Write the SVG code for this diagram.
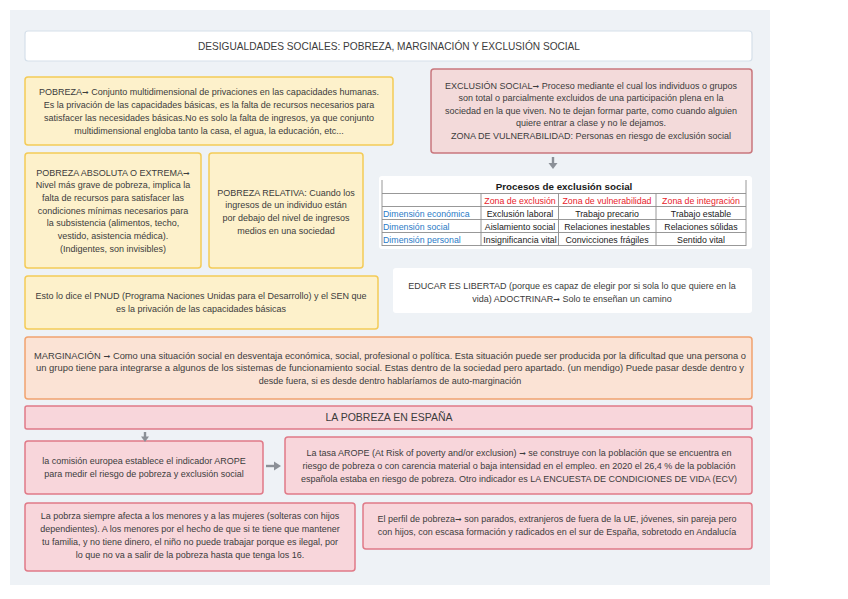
<svg xmlns="http://www.w3.org/2000/svg" width="848" height="599" viewBox="0 0 848 599">
<style>
text{font-family:"Liberation Sans",Arial,sans-serif;fill:#3c3c3c;font-size:9px;text-anchor:middle}
.t{font-size:10.5px}
.a{font-family:"DejaVu Sans",sans-serif;font-size:8px}
.y{fill:#fdf1cb;stroke:#f4cb57;stroke-width:1.5}
.p{fill:#f8d6db;stroke:#e07a88;stroke-width:1.5}
.ex{fill:#f3dada;stroke:#c9777d;stroke-width:1.5}
.o{fill:#fbe3d5;stroke:#f1a36f;stroke-width:1.5}
.w{fill:#ffffff;stroke:#d6e0ea;stroke-width:1.2}
.tb text{font-size:8.8px;fill:#1a1a1a}
.tb .r{fill:#e8232b}
.tb .b{fill:#2a7ac6;text-anchor:start}
.tb line{stroke:#8c8c8c;stroke-width:0.9}
.con line{stroke:#8b9097;stroke-width:2.4}
.con polygon{fill:#8b9097}
</style>
<rect x="0" y="0" width="848" height="599" fill="#ffffff"/>
<rect x="10" y="10" width="760" height="575" fill="#eef2f6"/>

<g id="title">
<rect class="w" x="25" y="31" width="727" height="30" rx="3"/>
<text class="t" x="389" y="50" textLength="382" lengthAdjust="spacingAndGlyphs">DESIGUALDADES SOCIALES: POBREZA, MARGINACIÓN Y EXCLUSIÓN SOCIAL</text>
</g>

<g id="pobreza">
<rect class="y" x="25" y="77" width="368" height="68" rx="3"/>
<text x="209" y="95">POBREZA<tspan class="a">➞</tspan> Conjunto multidimensional de privaciones en las capacidades humanas.</text>
<text x="209" y="108">Es la privación de las capacidades básicas, es la falta de recursos necesarios para</text>
<text x="209" y="121">satisfacer las necesidades básicas.No es solo la falta de ingresos, ya que conjunto</text>
<text x="209" y="134">multidimensional engloba tanto la casa, el agua, la educación, etc...</text>
</g>

<g id="exclusion">
<rect class="ex" x="431" y="69" width="321" height="84" rx="3"/>
<text x="591" y="89">EXCLUSIÓN SOCIAL<tspan class="a">➞</tspan> Proceso mediante el cual los individuos o grupos</text>
<text x="591" y="101">son total o parcialmente excluidos de una participación plena en la</text>
<text x="591" y="114">sociedad en la que viven. No te dejan formar parte, como cuando alguien</text>
<text x="591" y="126">quiere entrar a clase y no le dejamos.</text>
<text x="591" y="139">ZONA DE VULNERABILIDAD: Personas en riesgo de exclusión social</text>
</g>

<g id="absoluta">
<rect class="y" x="25" y="153" width="176" height="115" rx="3"/>
<text x="113" y="176">POBREZA ABSOLUTA O EXTREMA<tspan class="a">➞</tspan></text>
<text x="113" y="188">Nivel más grave de pobreza, implica la</text>
<text x="113" y="201">falta de recursos para satisfacer las</text>
<text x="113" y="214">condiciones mínimas necesarios para</text>
<text x="113" y="226">la subsistencia (alimentos, techo,</text>
<text x="113" y="239">vestido, asistencia médica).</text>
<text x="113" y="252">(Indigentes, son invisibles)</text>
</g>

<g id="relativa">
<rect class="y" x="209" y="153" width="154" height="115" rx="3"/>
<text x="286" y="196">POBREZA RELATIVA: Cuando los</text>
<text x="286" y="208">ingresos de un individuo están</text>
<text x="286" y="221">por debajo del nivel de ingresos</text>
<text x="286" y="234">medios en una sociedad</text>
</g>

<g id="tabla" class="tb">
<rect x="379" y="176" width="373" height="73" rx="3" fill="#ffffff"/>
<line x1="382" y1="180" x2="382" y2="246"/>
<line x1="746" y1="180" x2="746" y2="246"/>
<line x1="382" y1="193.5" x2="746" y2="193.5"/>
<line x1="382" y1="206.5" x2="746" y2="206.5"/>
<line x1="382" y1="219.5" x2="746" y2="219.5"/>
<line x1="382" y1="232.5" x2="746" y2="232.5"/>
<line x1="382" y1="245.5" x2="746" y2="245.5"/>
<line x1="481" y1="193.5" x2="481" y2="245.5"/>
<line x1="558.5" y1="193.5" x2="558.5" y2="245.5"/>
<line x1="656" y1="193.5" x2="656" y2="245.5"/>
<text x="564" y="190" style="font-weight:bold;font-size:9.8px">Procesos de exclusión social</text>
<text class="r" x="520" y="204">Zona de exclusión</text>
<text class="r" x="607" y="204">Zona de vulnerabilidad</text>
<text class="r" x="701" y="204">Zona de integración</text>
<text class="b" x="383" y="216.5">Dimensión económica</text>
<text class="b" x="383" y="229.5">Dimensión social</text>
<text class="b" x="383" y="242.5">Dimensión personal</text>
<text x="520" y="216.5">Exclusión laboral</text>
<text x="607" y="216.5">Trabajo precario</text>
<text x="701" y="216.5">Trabajo estable</text>
<text x="520" y="229.5">Aislamiento social</text>
<text x="607" y="229.5">Relaciones inestables</text>
<text x="701" y="229.5">Relaciones sólidas</text>
<text x="520" y="242.5">Insignificancia vital</text>
<text x="607" y="242.5">Convicciones frágiles</text>
<text x="701" y="242.5">Sentido vital</text>
</g>

<g id="pnud">
<rect class="y" x="25" y="276" width="353" height="53" rx="3"/>
<text x="201" y="299">Esto lo dice el PNUD (Programa Naciones Unidas para el Desarrollo) y el SEN que</text>
<text x="201" y="312">es la privación de las capacidades básicas</text>
</g>

<g id="educar">
<rect x="393" y="268" width="359" height="45" rx="3" fill="#ffffff"/>
<text x="572" y="289">EDUCAR ES LIBERTAD (porque es capaz de elegir por si sola lo que quiere en la</text>
<text x="572" y="302">vida) ADOCTRINAR<tspan class="a">➞</tspan> Solo te enseñan un camino</text>
</g>

<g id="marginacion">
<rect class="o" x="25" y="337" width="727" height="62" rx="3"/>
<text x="390" y="359" textLength="712" lengthAdjust="spacingAndGlyphs">MARGINACIÓN <tspan class="a">➞</tspan> Como una situación social en desventaja económica, social, profesional o política. Esta situación puede ser producida por la dificultad que una persona o</text>
<text x="390" y="371" textLength="708" lengthAdjust="spacingAndGlyphs">un grupo tiene para integrarse a algunos de los sistemas de funcionamiento social. Estas dentro de la sociedad pero apartado.  (un mendigo) Puede pasar desde dentro y</text>
<text x="390" y="384">desde fuera, si es desde dentro hablaríamos de auto-marginación</text>
</g>

<g id="espana">
<rect class="p" x="25" y="406" width="727" height="23" rx="2"/>
<text class="t" x="389" y="421">LA POBREZA EN ESPAÑA</text>
</g>

<g id="arope-ue">
<rect class="p" x="25" y="441" width="238" height="53" rx="3"/>
<text x="144" y="464">la comisión europea establece el indicador AROPE</text>
<text x="144" y="477">para medir el riesgo de pobreza y exclusión social</text>
</g>

<g id="arope-tasa">
<rect class="p" x="285" y="437" width="467" height="57" rx="3"/>
<text x="519" y="456">La tasa AROPE (At Risk of poverty and/or exclusion) <tspan class="a">➞</tspan> se construye con la población que se encuentra en</text>
<text x="519" y="469">riesgo de pobreza o con carencia material o baja intensidad en el empleo. en 2020 el 26,4 % de la población</text>
<text x="519" y="482">española estaba en riesgo de pobreza. Otro indicador es LA ENCUESTA DE CONDICIONES DE VIDA (ECV)</text>
</g>

<g id="menores">
<rect class="p" x="25" y="503" width="330" height="68" rx="3"/>
<text x="190" y="519">La pobrza siempre afecta a los menores y a las mujeres (solteras con hijos</text>
<text x="190" y="532">dependientes). A los menores por el hecho de que si te tiene que mantener</text>
<text x="190" y="545">tu familia, y no tiene dinero, el niño no puede trabajar porque es ilegal, por</text>
<text x="190" y="558">lo que no va a salir de la pobreza hasta que tenga los 16.</text>
</g>

<g id="perfil">
<rect class="p" x="363" y="503" width="389" height="46" rx="3"/>
<text x="557" y="522">El perfil de pobreza<tspan class="a">➞</tspan> son parados, extranjeros de fuera de la UE, jóvenes, sin pareja pero</text>
<text x="557" y="535">con hijos, con escasa formación y radicados en el sur de España, sobretodo en Andalucía</text>
</g>

<g id="connectors" class="con">
<line x1="553" y1="157" x2="553" y2="164"/>
<polygon points="548.5,163 557.5,163 553,169"/>
<line x1="145" y1="432" x2="145" y2="437"/>
<polygon points="141,436.5 149,436.5 145,442"/>
<line x1="266" y1="466" x2="275" y2="466"/>
<polygon points="274,461.5 274,470.5 281,466"/>
</g>
</svg>
